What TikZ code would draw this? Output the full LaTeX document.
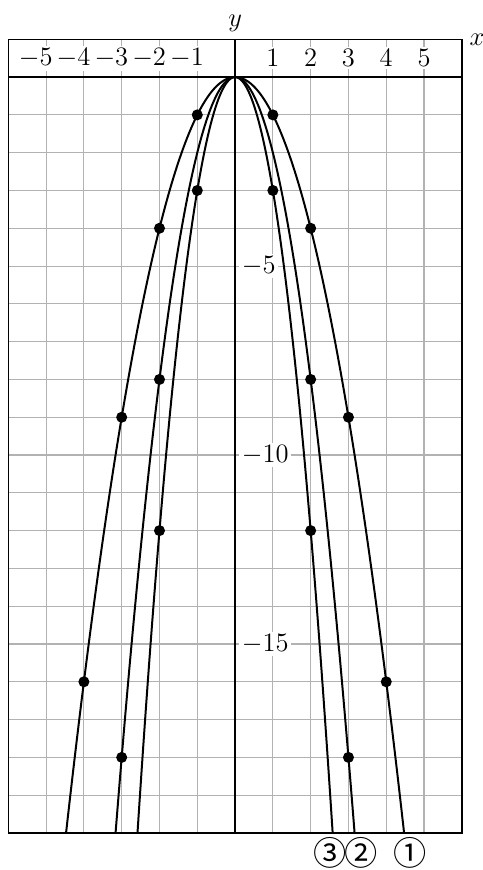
\documentclass[tikz,border=0pt]{standalone}
\usepackage{fontspec}
\usepackage{tikz}
\newfontfamily\circfont{Noto Sans CJK JP}
\tikzset{
  gridline/.style={draw=gray!60, line width=0.5pt},
  axisline/.style={draw=black, line width=0.6pt},
  curveline/.style={draw=black, line width=0.9pt, samples=120, smooth},
  ticklabel/.style={fill=white, inner sep=1.2pt},
  curvelabel/.style={font=\circfont\fontsize{15}{17}\selectfont, inner sep=0pt}
}

\begin{document}
\begin{tikzpicture}[x=0.6cm, y=0.6cm, every node/.style={font=\fontsize{13}{15}\selectfont}]
  \useasboundingbox (-6.22,-20.98) rectangle (6.54,2.04);

  % grid and axes
  \draw[gridline, step=0.6cm] (-6,-20) grid (6,1);
  \draw[axisline] (-6,0) -- (6,0);
  \draw[axisline] (0,-20) -- (0,1);
  \draw[axisline] (-6,-20) rectangle (6,1);
  \node[above] (ylab) at (0,1) {$y$};
  \node[right] (xlab) at (6,1) {$x$};

  % tick labels
  \foreach \n in {1,...,5} {
    \node[ticklabel] (xp\n) at (\n,0.5) {$\n$};
    \node[ticklabel] (xm\n) at (-\n,0.5) {$\llap{$-$}\n$};
  }
  \foreach \n in {5,10,15}
    \node[ticklabel, anchor=west] (ym\n) at (0.1,-\n) {$-\n$};

  % curves  y=-x^2, y=-2x^2, y=-3x^2
  \draw[curveline, domain=-4.4721:4.4721] plot (\x,{-(\x)^2});
  \draw[curveline, domain=-3.1623:3.1623] plot (\x,{-2*(\x)^2});
  \draw[curveline, domain=-2.5820:2.5820] plot (\x,{-3*(\x)^2});

  % points
  \foreach \px/\py in {1/-1,2/-4,3/-9,4/-16,2/-8,3/-18,1/-3,2/-12} {
    \fill (\px,\py) circle (2.5pt);
    \fill (-\px,\py) circle (2.5pt);
  }

  \node[curvelabel] (c3) at (2.52,-20.53) {③};
  \node[curvelabel] (c2) at (3.33,-20.53) {②};
  \node[curvelabel] (c1) at (4.62,-20.53) {①};
\end{tikzpicture}
\end{document}
